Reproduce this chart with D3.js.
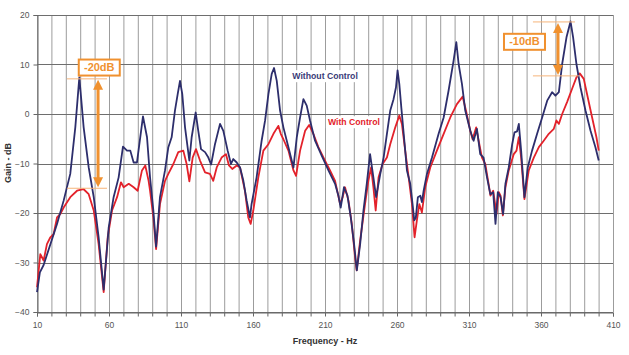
<!DOCTYPE html>
<html><head><meta charset="utf-8">
<script src="https://cdn.jsdelivr.net/npm/d3@7"></script>
<style>body{margin:0;background:#fff}svg{display:block;font-family:"Liberation Sans",Arial,sans-serif}</style>
</head><body><svg id="c" width="629" height="355"></svg>
<script>
const xTicks = [10,60,110,160,210,260,310,360,410];
const yTicks = [-40,-30,-20,-10,0,10,20];
const navyFreq = [10,12,14.6,19.3,23.9,28.5,33.1,36.6,39.4,42.4,45.9,49.4,52.8,56.3,59.8,63.2,66.7,69.7,72.5,74.8,77.1,79.4,83.6,86.4,88.5,90.8,92.7,95.4,98.9,101.2,103.5,105.8,107.7,109.3,110.9,112.8,115.8,117.4,120.2,122,123.9,126.7,129,130.9,133.6,137.1,139.4,142.4,144.7,146.3,148.7,151,153.3,155.6,157.9,159,162.5,166,168.4,170.7,173,174.6,176.5,178.8,181.1,184.6,188.1,190.4,192.7,195,197.3,199.6,203.1,207.7,212.4,217,219.3,220.9,223.2,225.6,227.9,230.2,232.1,234.4,236.7,239,241.3,243.6,245.5,248.4,250.7,253,255.3,257.6,259.3,260.4,261.6,263,265.3,266.9,269.2,270.8,272,273.1,274.5,276.2,277.3,278.5,280.8,284.3,288.9,292.4,295.8,299.3,301.2,302.8,305.1,307.4,310.9,313.2,315.5,317.8,320.1,322.5,324.8,326.8,328.4,330,331.9,333.7,335.3,337.6,340,341.6,343.4,344.6,346.2,348.5,350.8,353.8,357.3,360.8,364.3,367.7,370,372.4,374.7,377.7,380.5,382.3,384.6,387.4,390.9,394.4,397.8,400.1];
const navyGain = [-36,-32,-30.5,-26.3,-22.2,-17.5,-12.1,-2.7,7.4,-2.7,-10.8,-16.8,-24.9,-35.5,-22.9,-16.8,-12.8,-6.6,-7.4,-7.4,-9.8,-9.8,-0.5,-4.7,-12.8,-19.5,-26.8,-16.8,-11.4,-6.7,-4.7,0.7,4.0,6.7,4.0,-2.7,-9.4,-4.7,0.3,-3.4,-7.1,-7.7,-8.8,-10.2,-6.1,-2.0,-3.4,-7.4,-10.1,-9.1,-9.8,-10.8,-13.5,-17.5,-20.9,-18.2,-12.8,-5.4,-1.3,4.0,8.1,9.3,6.7,0.7,-2.7,-6.7,-10.8,-4.7,-0.7,3.0,1.7,-1.3,-5.4,-8.4,-11.4,-14.1,-16.5,-18.9,-14.8,-16.5,-20.9,-26.3,-31.6,-26.3,-19.5,-14.1,-8.1,-12.8,-16.8,-12.1,-8.8,-4.0,0.7,3.0,5.4,8.8,6.1,1.3,-6.1,-11.4,-14.1,-18.2,-21.5,-20.9,-16.8,-16.5,-17.8,-15.5,-12.1,-8.8,-4.0,-0.7,4.7,10.8,14.5,10.1,6.1,0.7,-3.4,-5.4,-3.0,-8.1,-8.8,-12.8,-16.2,-15.8,-22.2,-15.8,-16.8,-20.2,-14.1,-10.8,-6.1,-3.7,-3.5,-2.0,-7.4,-16.8,-10.8,-7.4,-4.0,-0.7,2.7,4.4,3.7,4.4,10.1,15.5,18.7,15.5,10.1,5.4,0.7,-3.4,-6.7,-9.4];
const redFreq = [10,12.3,14.6,16.9,19.3,21.6,23.9,26.2,28.5,33.1,37.8,42.4,45.9,49.4,52.8,56.3,59.1,62.1,65.6,68.3,70.2,73.7,77.1,79.9,82.9,85.2,87.5,88.5,90.8,92.7,95.4,98.9,101.2,104.7,108.1,111.6,113.9,115.8,118.1,120.4,123.2,126.7,130.1,132.4,134.8,138.2,141.2,143.3,145.6,148.7,151,154.4,156.7,158.4,160.2,163.7,167.2,170.7,174.2,177.6,179.3,181.1,184.6,188.1,189.9,192.7,196.2,199,201.9,205.4,210,213.5,217,220.5,222.3,223.9,226.3,228.6,230.9,232,234.4,237.8,240.1,242,243.6,245.2,247.2,250,253,255.3,258.8,261.6,263.4,265.7,268.1,270.4,272.2,273.8,275.5,277.3,279.6,283.1,287.7,292.4,297,301.6,305.6,307.9,310.9,312.5,315,316.7,319,321.3,323.6,324.9,326.8,329.1,330.7,331.9,333.5,335.3,337.6,341.1,343,344.6,346.2,348.5,351.5,355,358.5,361.9,365.4,368.9,370.7,372.4,374.7,378.1,381.6,384.6,386.9,389.7,392,395.5,398.5,400.1];
const redGain = [-35,-28.3,-29.6,-26.3,-24.9,-24.2,-20.9,-20.2,-18.9,-16.8,-15.5,-15.2,-16.2,-19.5,-26.3,-36,-24.9,-19.5,-16.8,-13.8,-14.8,-14.1,-14.8,-15.5,-11.4,-10.4,-13.5,-15.5,-20.9,-27.3,-18.2,-13.5,-12.1,-10.1,-7.7,-7.4,-10.1,-13.6,-8.8,-7.1,-9.4,-11.8,-12.1,-13.5,-10.8,-8.8,-8.1,-10.4,-11.1,-10.4,-10.8,-15.5,-20.9,-22.2,-19.5,-12.8,-7.4,-6.1,-4.0,-2.4,-4.0,-5.1,-7.4,-11.4,-12.5,-7.4,-3.4,-2.2,-4.0,-6.7,-9.4,-11.4,-13.5,-18.2,-16.8,-14.8,-17.5,-22.2,-29.0,-31.6,-25.6,-18.2,-13.5,-10.8,-14.8,-19.5,-12.8,-10.1,-8.8,-6.1,-2.7,-0.3,-2.0,-7.4,-12.8,-18.2,-24.9,-21.5,-18.2,-19.9,-14.8,-10.8,-7.4,-4.0,-0.7,2.0,3.5,0.7,-3.4,-5.1,-2.7,-5.4,-8.8,-10.1,-14.1,-16.5,-15.5,-20.2,-15.8,-16.5,-20.5,-14.8,-11.4,-8.1,-7.4,-4.7,-8.8,-17.2,-11.4,-8.8,-6.7,-5.4,-4.0,-3.0,-1.3,-2.0,0,2.4,5.1,7.4,8.2,7.1,4.0,-0.7,-4.7,-7.4];
const seriesNames = ["Without Control","With Control"];
const annotLabels = ["-20dB","-10dB"];
const annotArrowFreq = [52.4, 371.8];
const annotTop = [7.1, 18.6];
const annotBottom = [-15, 7.7];

const svg = d3.select("#c");
const L=37,R=613,T=15,B=312;
const x = d3.scaleLinear().domain([10,410]).range([L,R]);
const y = d3.scaleLinear().domain([-40,20]).range([B,T]);
const font = '"Liberation Sans",Arial,sans-serif';

// grid
const g = svg.append("g");
g.selectAll(".vg").data(d3.range(10,411,10)).join("line")
  .attr("x1",d=>x(d)+0.5).attr("x2",d=>x(d)+0.5).attr("y1",T).attr("y2",B)
  .attr("stroke","#9c9c9c").attr("stroke-width",1);
g.selectAll(".hg").data(yTicks).join("line")
  .attr("x1",L).attr("x2",R).attr("y1",d=>Math.round(y(d))+0.5).attr("y2",d=>Math.round(y(d))+0.5)
  .attr("stroke","#6e6e6e").attr("stroke-width",1);

// axes
const xa = svg.append("g").attr("transform",`translate(0,${Math.round(B)+0.5})`)
  .call(d3.axisBottom(x).tickValues(d3.range(10,411,10)).tickSize(4).tickFormat(d=>xTicks.includes(d)?d:""));
xa.select(".domain").attr("stroke","#666");
xa.selectAll(".tick line").attr("stroke","#666");
xa.selectAll(".tick text").attr("fill","#555").attr("font-size","8.5px").attr("font-family",font).attr("dy","1.05em");
const ya = svg.append("g").attr("transform",`translate(${L+0.5},0)`)
  .call(d3.axisLeft(y).tickValues(yTicks).tickSize(4).tickPadding(4));
ya.select(".domain").attr("stroke","#666");
ya.selectAll(".tick line").attr("stroke","#666");
ya.selectAll(".tick text").attr("fill","#555").attr("font-size","8.5px").attr("font-family",font);

svg.append("text").attr("x",325).attr("y",344).attr("text-anchor","middle")
  .attr("font-size","9px").attr("font-weight","bold").attr("fill","#333").text("Frequency - Hz");
svg.append("text").attr("transform","translate(11,163) rotate(-90)").attr("text-anchor","middle")
  .attr("font-size","9px").attr("font-weight","bold").attr("fill","#333").text("Gain - dB");

// series
const line = d3.line().x(d=>x(d[0])).y(d=>y(d[1]));
const red = redFreq.map((f,i)=>[f,redGain[i]]);
const navy = navyFreq.map((f,i)=>[f,navyGain[i]]);
svg.append("path").datum(red).attr("d",line).attr("fill","none").attr("stroke","#e3222b").attr("stroke-width",1.8).attr("stroke-linejoin","round");
svg.append("path").datum(navy).attr("d",line).attr("fill","none").attr("stroke","#2d2e6c").attr("stroke-width",1.8).attr("stroke-linejoin","round");

// legend labels
const labs = [{t:seriesNames[0],f:187.3,v:7.5,c:"#3a3b78"},{t:seriesNames[1],f:212,v:-1.8,c:"#e3222b"}];
labs.forEach(l=>{
  const t = svg.append("text").attr("x",x(l.f)).attr("y",y(l.v)).attr("font-size","8.7px").attr("font-weight","bold")
    .attr("fill",l.c).attr("dominant-baseline","middle").text(l.t);
  const bb = t.node().getBBox();
  svg.insert("rect",()=>t.node()).attr("x",bb.x-2).attr("y",bb.y-1).attr("width",bb.width+4).attr("height",bb.height+2).attr("fill","#fff");
});

// annotations
const orange="#f0912f", light="#f6b47a";
const lineStart=[30.8,354.4], lineEndTop=[58.6,383.6], lineEndBot=[58.6,386.4];
const boxX=[39,334.3], boxW=[41,41], boxTop=[11,16.2], boxH=[16,16];
annotLabels.forEach((lab,i)=>{
  const a = svg.append("g");
  a.append("line").attr("x1",x(lineStart[i])).attr("x2",x(lineEndTop[i])).attr("y1",y(annotTop[i])).attr("y2",y(annotTop[i])).attr("stroke",light).attr("stroke-width",1);
  a.append("line").attr("x1",x(lineStart[i])).attr("x2",x(lineEndBot[i])).attr("y1",y(annotBottom[i])).attr("y2",y(annotBottom[i])).attr("stroke",light).attr("stroke-width",1);
  const ax = x(annotArrowFreq[i]), y1=y(annotTop[i])+1, y2=y(annotBottom[i])-1;
  a.append("line").attr("x1",ax).attr("x2",ax).attr("y1",y1+8).attr("y2",y2-8).attr("stroke",orange).attr("stroke-width",3);
  a.append("path").attr("d",`M${ax},${y1} L${ax-5},${y1+10} L${ax+5},${y1+10}Z`).attr("fill",orange);
  a.append("path").attr("d",`M${ax},${y2} L${ax-5},${y2-10} L${ax+5},${y2-10}Z`).attr("fill",orange);
  const bx=x(boxX[i]), by=y(boxTop[i]);
  a.append("rect").attr("x",bx).attr("y",by).attr("width",boxW[i]).attr("height",boxH[i]).attr("fill","#fff").attr("stroke",orange).attr("stroke-width",2);
  a.append("text").attr("x",bx+boxW[i]/2).attr("y",by+boxH[i]/2+0.5).attr("text-anchor","middle").attr("dominant-baseline","middle")
    .attr("font-size","11px").attr("font-weight","bold").attr("fill",orange).text(lab);
});
</script></body></html>
